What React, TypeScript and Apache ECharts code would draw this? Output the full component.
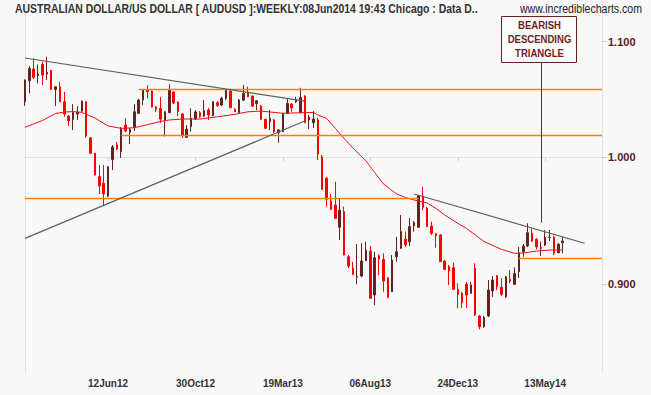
import React, { useEffect, useRef } from 'react';
import * as echarts from 'echarts';

// ---------- categories (weekly) ----------
const START_DATE = Date.UTC(2012, 0, 31);
const N_CATEGORIES = 133;
const MONTHS = ['Jan', 'Feb', 'Mar', 'Apr', 'May', 'Jun', 'Jul', 'Aug', 'Sep', 'Oct', 'Nov', 'Dec'];
const CATEGORIES: string[] = Array.from({ length: N_CATEGORIES }, (_, i) => {
  const d = new Date(START_DATE + i * 7 * 86400000);
  const dd = String(d.getUTCDate()).padStart(2, '0');
  return dd + MONTHS[d.getUTCMonth()] + String(d.getUTCFullYear()).slice(2);
});
const TICK_LABELS = ['12Jun12', '30Oct12', '19Mar13', '06Aug13', '24Dec13', '13May14'];

// ---------- weekly OHLC ----------
const OPEN = [
  1.0467, 1.0651, 1.0754, 1.0697, 1.0796, 1.0710, 1.0742, 1.0575, 1.0595, 1.0467,
  1.0344, 1.0315, 1.0362, 1.0387, 1.0467, 1.0160, 1.0031, 0.9840, 0.9785, 0.9683,
  0.9979, 1.0100, 1.0044, 1.0268, 1.0206, 1.0249, 1.0368, 1.0482, 1.0573, 1.0560,
  1.0422, 1.0411, 1.0311, 1.0373, 1.0552, 1.0465, 1.0362, 1.0164, 1.0254, 1.0322,
  1.0373, 1.0344, 1.0396, 1.0347, 1.0458, 1.0439, 1.0497, 1.0560, 1.0402, 1.0373,
  1.0482, 1.0549, 1.0517, 1.0453, 1.0430, 1.0317, 1.0297, 1.0311, 1.0203, 1.0212,
  1.0368, 1.0447, 1.0467, 1.0373, 1.0517, 1.0311, 1.0288, 1.0311, 1.0002, 0.9826,
  0.9643, 0.9611, 0.9436, 0.9558, 0.9209, 0.9121, 0.9055, 0.9063, 0.9179, 0.9252,
  0.8922, 0.9217, 0.9189, 0.9050, 0.8946, 0.9209, 0.9273, 0.9343, 0.9324, 0.9446,
  0.9436, 0.9683, 0.9585, 0.9446, 0.9384, 0.9376, 0.9176, 0.9133, 0.9126, 0.8964,
  0.8935, 0.9003, 0.8935, 0.9121, 0.8769, 0.8692, 0.8769, 0.8952, 0.9065, 0.8979,
  0.8909, 0.9038, 0.9001, 0.9096, 0.9247, 0.9291, 0.9389, 0.9343, 0.9273, 0.9299,
  0.9357, 0.9358, 0.9239, 0.9316,
];
const CLOSE = [
  1.0657, 1.0760, 1.0681, 1.0710, 1.0701, 1.0725, 1.0575, 1.0598, 1.0467, 1.0362,
  1.0305, 1.0375, 1.0379, 1.0473, 1.0175, 1.0031, 0.9852, 0.9763, 0.9699, 0.9920,
  1.0083, 1.0066, 1.0240, 1.0218, 1.0230, 1.0381, 1.0482, 1.0575, 1.0556, 1.0422,
  1.0402, 1.0319, 1.0381, 1.0569, 1.0456, 1.0383, 1.0184, 1.0234, 1.0325, 1.0379,
  1.0338, 1.0390, 1.0353, 1.0467, 1.0436, 1.0497, 1.0569, 1.0416, 1.0381, 1.0482,
  1.0540, 1.0511, 1.0430, 1.0476, 1.0317, 1.0240, 1.0325, 1.0212, 1.0226, 1.0368,
  1.0453, 1.0416, 1.0488, 1.0505, 1.0288, 1.0336, 1.0319, 1.0025, 0.9737, 0.9657,
  0.9577, 0.9506, 0.9571, 0.9222, 0.9138, 0.9076, 0.9059, 0.9176, 0.9260, 0.8898,
  0.9201, 0.9189, 0.9026, 0.8905, 0.9184, 0.9247, 0.9402, 0.9299, 0.9441, 0.9472,
  0.9683, 0.9593, 0.9441, 0.9389, 0.9370, 0.9171, 0.9113, 0.9101, 0.8964, 0.8927,
  0.8865, 0.8922, 0.8996, 0.8776, 0.8692, 0.8759, 0.8959, 0.9033, 0.8983, 0.8927,
  0.9058, 0.9026, 0.9083, 0.9239, 0.9291, 0.9394, 0.9329, 0.9285, 0.9278, 0.9358,
  0.9358, 0.9235, 0.9304, 0.9329,
];
const LOW = [
  1.0432, 1.0540, 1.0666, 1.0628, 1.0613, 1.0657, 1.0573, 1.0430, 1.0465, 1.0338,
  1.0260, 1.0226, 1.0311, 1.0379, 1.0162, 1.0029, 0.9850, 0.9699, 0.9603, 0.9675,
  0.9893, 1.0058, 0.9992, 1.0209, 1.0108, 1.0218, 1.0362, 1.0439, 1.0499, 1.0418,
  1.0381, 1.0285, 1.0171, 1.0370, 1.0447, 1.0344, 1.0158, 1.0158, 1.0212, 1.0311,
  1.0328, 1.0336, 1.0311, 1.0344, 1.0422, 1.0430, 1.0482, 1.0413, 1.0379, 1.0370,
  1.0473, 1.0508, 1.0422, 1.0396, 1.0311, 1.0234, 1.0226, 1.0200, 1.0118, 1.0209,
  1.0362, 1.0381, 1.0456, 1.0370, 1.0285, 1.0234, 1.0243, 0.9975, 0.9731, 0.9598,
  0.9571, 0.9501, 0.9337, 0.9220, 0.9123, 0.9070, 0.9001, 0.9055, 0.9176, 0.8896,
  0.8848, 0.9070, 0.8946, 0.8898, 0.8944, 0.9171, 0.9268, 0.9283, 0.9291, 0.9402,
  0.9431, 0.9571, 0.9438, 0.9376, 0.9278, 0.9169, 0.9108, 0.8996, 0.8959, 0.8824,
  0.8826, 0.8826, 0.8929, 0.8769, 0.8673, 0.8683, 0.8762, 0.8909, 0.8959, 0.8914,
  0.8900, 0.9011, 0.8996, 0.9048, 0.9209, 0.9283, 0.9322, 0.9265, 0.9214, 0.9291,
  0.9329, 0.9222, 0.9237, 0.9235,
];
const HIGH = [
  1.0662, 1.0781, 1.0849, 1.0795, 1.0820, 1.0865, 1.0746, 1.0600, 1.0642, 1.0554,
  1.0353, 1.0447, 1.0430, 1.0478, 1.0473, 1.0162, 1.0033, 0.9934, 0.9934, 0.9926,
  1.0100, 1.0125, 1.0251, 1.0325, 1.0243, 1.0447, 1.0491, 1.0578, 1.0610, 1.0565,
  1.0430, 1.0508, 1.0387, 1.0619, 1.0560, 1.0473, 1.0370, 1.0268, 1.0411, 1.0396,
  1.0387, 1.0482, 1.0413, 1.0473, 1.0473, 1.0511, 1.0578, 1.0569, 1.0413, 1.0491,
  1.0613, 1.0598, 1.0523, 1.0482, 1.0439, 1.0319, 1.0396, 1.0319, 1.0234, 1.0370,
  1.0497, 1.0456, 1.0511, 1.0589, 1.0523, 1.0353, 1.0387, 1.0328, 1.0017, 0.9836,
  0.9699, 0.9798, 0.9665, 0.9598, 0.9222, 0.9169, 0.9306, 0.9312, 0.9324, 0.9290,
  0.9247, 0.9227, 0.9235, 0.9055, 0.9222, 0.9363, 0.9532, 0.9402, 0.9508, 0.9485,
  0.9691, 0.9758, 0.9595, 0.9480, 0.9392, 0.9384, 0.9184, 0.9146, 0.9163, 0.9008,
  0.8944, 0.9018, 0.9020, 0.9159, 0.8776, 0.8769, 0.9033, 0.9063, 0.9070, 0.9046,
  0.9063, 0.9108, 0.9128, 0.9283, 0.9306, 0.9467, 0.9428, 0.9353, 0.9324, 0.9415,
  0.9415, 0.9368, 0.9312, 0.9363,
];

// ---------- moving average (read at sampled weeks) ----------
const MA_INDEX = [0, 4, 7, 9, 11, 13, 16, 19, 22, 25, 28, 31, 33, 36, 40, 44, 48, 51, 54, 59, 63, 66, 67, 69, 71, 73, 75, 78, 80, 82, 85, 87, 89, 92, 94, 96, 99, 101, 105, 109, 112, 114, 117, 120, 123];
const MA_VALUE = [1.0249, 1.0307, 1.0366, 1.0379, 1.0383, 1.0376, 1.0328, 1.0260, 1.0240, 1.0245, 1.0271, 1.0298, 1.0311, 1.0319, 1.0319, 1.0338, 1.0359, 1.0381, 1.0387, 1.0368, 1.0373, 1.0375, 1.0353, 1.0325, 1.0240, 1.0155, 1.0075, 0.9967, 0.9873, 0.9780, 0.9699, 0.9672, 0.9651, 0.9627, 0.9585, 0.9532, 0.9467, 0.9427, 0.9326, 0.9265, 0.9235, 0.9237, 0.9252, 0.9260, 0.9260];

// ---------- annotations (category index, price) ----------
const HORIZONTAL_LEVELS = [
  { from: 26, to: 132, price: 1.0575 },
  { from: 22, to: 132, price: 1.0181 },
  { from: 0, to: 90, price: 0.9665 },
  { from: 113, to: 132, price: 0.9197 },
];
const TREND_LINES = [
  { x1: 0, p1: 1.0853, x2: 64, p2: 1.0473 },
  { x1: 0, p1: 0.9350, x2: 64, p2: 1.0302 },
  { x1: 89, p1: 0.9699, x2: 128, p2: 0.9312 },
];
const POINTER_LINE = { x: 118, p1: 0.9472, p2: 1.0814 };

const Y_TICKS = [0.9, 1.0, 1.1];
const Y_MIN_PRICE = 0.8365;
const Y_MAX_PRICE = 1.1386;

const TITLE = 'AUSTRALIAN DOLLAR/US DOLLAR [ AUDUSD ]:WEEKLY:08Jun2014 19:43 Chicago : Data D..';
const SITE = 'www.incrediblecharts.com';
const NOTE = 'BEARISH\nDESCENDING\nTRIANGLE';

const L = Math.log;
const FONT = '"Liberation Sans", Arial, sans-serif';

export default function App() {
  const ref = useRef<HTMLDivElement>(null);
  useEffect(() => {
    if (!ref.current) return;
    const chart = echarts.init(ref.current, undefined, { renderer: 'svg' });
    const candles = OPEN.map((o, i) => [L(o), L(CLOSE[i]), L(LOW[i]), L(HIGH[i])]);
    const ma = MA_INDEX.map((idx, k) => [idx, L(MA_VALUE[k])]);
    const orange = '#ff8000';
    const markData: any[] = [];
    HORIZONTAL_LEVELS.forEach((h) => {
      markData.push([
        { coord: [h.from, L(h.price)], lineStyle: { color: orange, width: 1.3, type: 'solid' } },
        { coord: [h.to, L(h.price)] },
      ]);
    });
    TREND_LINES.forEach((t) => {
      markData.push([
        { coord: [t.x1, L(t.p1)], lineStyle: { color: '#606060', width: 1.2, type: 'solid' } },
        { coord: [t.x2, L(t.p2)] },
      ]);
    });
    markData.push([
      { coord: [POINTER_LINE.x, L(POINTER_LINE.p1)], lineStyle: { color: '#3a3a3a', width: 1, type: 'solid' } },
      { coord: [POINTER_LINE.x, L(POINTER_LINE.p2)] },
    ]);
    const showTick = (_: number, v: string) => TICK_LABELS.includes(v);
    const yRange = { min: L(Y_MIN_PRICE), max: L(Y_MAX_PRICE) };
    const yTickVals = Y_TICKS.map((v) => L(v));
    chart.setOption({
      animation: false,
      backgroundColor: '#f8f8f8',
      grid: { left: 25, right: 49, top: 0, bottom: 22, show: false },
      xAxis: {
        type: 'category',
        data: CATEGORIES,
        boundaryGap: false,
        axisLine: { show: true, lineStyle: { color: '#e2e2e2', width: 1 } },
        axisTick: { show: true, interval: showTick, length: 4, lineStyle: { color: '#d0d0d0' } },
        axisLabel: { interval: showTick, color: '#333333', fontWeight: 'bold', fontSize: 10, fontFamily: FONT, margin: 5 },
        splitLine: { show: false },
      },
      yAxis: [
        {
          type: 'value', position: 'right', ...yRange, scale: true,
          axisLine: { show: true, lineStyle: { color: '#e2e2e2' } },
          axisTick: { show: true, length: 5, customValues: yTickVals, lineStyle: { color: '#cccccc' } },
          axisLabel: { customValues: yTickVals, formatter: (v: number) => Math.exp(v).toFixed(3), color: '#5a1818', fontWeight: 'bold', fontSize: 11, fontFamily: FONT, margin: 6 },
          splitLine: { show: false },
        },
        {
          type: 'value', position: 'left', ...yRange, scale: true,
          axisLine: { show: true, onZero: false, lineStyle: { color: '#e2e2e2' } },
          axisTick: { show: false }, axisLabel: { show: false }, splitLine: { show: false },
        },
      ],
      series: [
        {
          type: 'candlestick',
          data: candles,
          barWidth: 2,
          itemStyle: { color: '#632323', color0: '#ff0000', borderColor: '#632323', borderColor0: '#ff0000', borderWidth: 1 },
          z: 2,
        },
        {
          type: 'line',
          data: ma,
          symbol: 'none',
          lineStyle: { color: '#ee1111', width: 1 },
          z: 3,
          markLine: { symbol: ['none', 'none'], silent: true, label: { show: false }, lineStyle: { type: 'solid' }, data: markData },
        },
      ],
      graphic: [
        { type: 'text', x: 15, y: 9, scaleX: 0.87, style: { text: TITLE, font: 'bold 12px ' + FONT, fill: '#333333', align: 'left', verticalAlign: 'middle' }, z: 12 },
        { type: 'text', x: 642, y: 9, scaleX: 0.88, style: { text: SITE, font: '12px ' + FONT, fill: '#222222', align: 'right', verticalAlign: 'middle' }, z: 12 },
        { type: 'rect', shape: { x: 501.5, y: 16.5, width: 75, height: 46 }, style: { fill: '#fbfbfb', stroke: '#6b1f1f', lineWidth: 1 }, z: 10 },
        { type: 'text', x: 539.5, y: 39.5, scaleX: 0.87, style: { text: NOTE, fill: '#6b1f1f', font: 'bold 11px ' + FONT, align: 'center', verticalAlign: 'middle', lineHeight: 14 }, z: 11 },
      ],
    });
    return () => chart.dispose();
  }, []);
  return <div ref={ref} style={{ position: 'absolute', left: 0, top: 0, width: 651, height: 395 }} />;
}
